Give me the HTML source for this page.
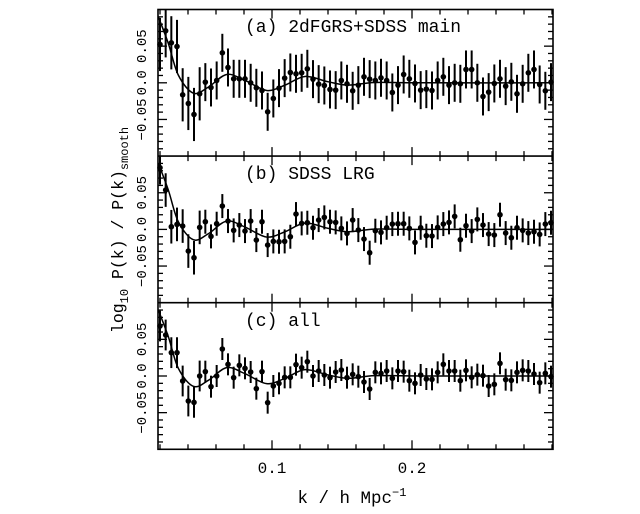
<!DOCTYPE html>
<html><head><meta charset="utf-8"><style>
html,body{margin:0;padding:0;background:#fff;}
svg{display:block;}
text{font-family:"Liberation Mono",monospace;fill:#000;}
</style></head><body>
<svg id="s" width="640" height="514" viewBox="0 0 640 514" xmlns="http://www.w3.org/2000/svg">
<g id="g"></g>
<text x="245" y="32" font-size="18">(a) 2dFGRS+SDSS main</text>
<text x="245" y="179" font-size="18">(b) SDSS LRG</text>
<text x="245" y="326" font-size="18">(c) all</text>
<text x="272" y="473" font-size="16" text-anchor="middle">0.1</text>
<text x="412" y="473" font-size="16" text-anchor="middle">0.2</text>
<text x="352" y="503" font-size="17.5" text-anchor="middle">k / h Mpc<tspan dy="-7" font-size="12">−1</tspan></text>
<text transform="translate(123,230) rotate(-90)" font-size="16.5" text-anchor="middle">log<tspan dy="5" font-size="12">10</tspan><tspan dy="-5"> P(k) / P(k)</tspan><tspan dy="5" font-size="12">smooth</tspan></text>
</svg>
<script>
var g=document.getElementById('g');var ns="http://www.w3.org/2000/svg";
function el(t,a){var e=document.createElementNS(ns,t);for(var k in a)e.setAttribute(k,a[k]);g.appendChild(e);return e;}
var L=158,R=553,T=9.5,H=146.6;
var panels=[
{o:5,eb:19,d:[118,77,113,124,269,295,328,266,231,247,226,143,187,221,221,221,233,248,256,320,280,249,219,202,206,203,191,222,237,241,253,255,226,236,257,240,215,222,226,218,226,262,240,208,221,235,255,252,256,226,215,240,233,236,193,193,233,274,261,235,221,243,230,266,236,203,193,238,257,231]},
{o:152,eb:12,d:[48,115,225,218,223,298,318,227,210,254,216,163,208,236,220,238,208,265,210,280,269,270,269,255,187,215,213,228,205,197,210,212,230,245,205,235,262,303,237,242,228,217,216,216,230,272,228,252,253,227,217,212,194,264,222,238,203,220,247,250,189,244,258,228,236,244,240,248,217,213]},
{o:299,eb:11,d:[83,110,163,163,248,308,312,233,220,265,233,152,198,238,201,210,221,271,220,313,263,255,237,237,199,208,190,233,218,230,238,221,215,238,228,235,251,272,222,225,218,240,218,220,247,255,230,242,243,222,198,218,218,247,216,237,229,232,263,258,195,244,246,222,216,218,227,253,225,235]}];
var cp=[[10,35],[40,115],[70,210],[115,264],[160,246],[215,208],[270,226],[335,256],[390,240],[450,214],[520,230],[580,240],[660,232],[800,233],[1200,233]];
function crPath(pts){var s="M"+pts[0][0]+","+pts[0][1];for(var i=0;i<pts.length-1;i++){var p0=pts[Math.max(0,i-1)],p1=pts[i],p2=pts[i+1],p3=pts[Math.min(pts.length-1,i+2)];
s+=" C"+(p1[0]+(p2[0]-p0[0])/6)+","+(p1[1]+(p2[1]-p0[1])/6)+" "+(p2[0]-(p3[0]-p1[0])/6)+","+(p2[1]-(p3[1]-p1[1])/6)+" "+p2[0]+","+p2[1];}return s;}
panels.forEach(function(p,pi){
 var top=T+pi*H,bot=top+H,zero=top+H/2;
 var pts=cp.map(function(c){return [155+c[0]/3, zero+(c[1]-233)/3];});
 pts[pts.length-1][0]=R;
 el('path',{d:crPath(pts),fill:'none',stroke:'#000','stroke-width':1.5});
 p.d.forEach(function(zy,i){
  var x=155+(15+17*i)/3,y=zero+(zy-233)/3;
  var e=p.eb; if(i<8) e=p.eb*1.4;
  el('line',{x1:x,y1:Math.max(top,y-e),x2:x,y2:Math.min(bot,y+e),stroke:'#000','stroke-width':2});
  el('circle',{cx:x,cy:y,r:2.8,fill:'#000'});
 });
 for(var k=0.02;k<0.301;k+=0.02){var x=272+(k-0.1)*1400;if(x<L+1||x>R-1)continue;var maj=Math.abs(k-0.1)<1e-6||Math.abs(k-0.2)<1e-6;var len=maj?9:5;
  el('line',{x1:x,y1:bot,x2:x,y2:bot-len,stroke:'#000','stroke-width':1.3});
  el('line',{x1:x,y1:top,x2:x,y2:top+len,stroke:'#000','stroke-width':1.3});}
 for(var j=-9;j<=9;j++){var y=zero-j*7.33;var maj=(j%5==0);var len=maj?9:5;
  el('line',{x1:L,y1:y,x2:L+len,y2:y,stroke:'#000','stroke-width':1.3});
  el('line',{x1:R,y1:y,x2:R-len,y2:y,stroke:'#000','stroke-width':1.3});}
 [[0.05,'0.05'],[0,'0.0'],[-0.05,'−0.05']].forEach(function(t){
  var y=zero-t[0]*733;var tx=el('text',{transform:'translate(146,'+y+') rotate(-90)','font-size':14,'text-anchor':'middle'});tx.textContent=t[1];});
});
el('rect',{x:L,y:T,width:R-L,height:3*H,fill:'none',stroke:'#000','stroke-width':1.6});
el('line',{x1:L,y1:T+H,x2:R,y2:T+H,stroke:'#000','stroke-width':1.6});
el('line',{x1:L,y1:T+2*H,x2:R,y2:T+2*H,stroke:'#000','stroke-width':1.6});
</script>
</body></html>
